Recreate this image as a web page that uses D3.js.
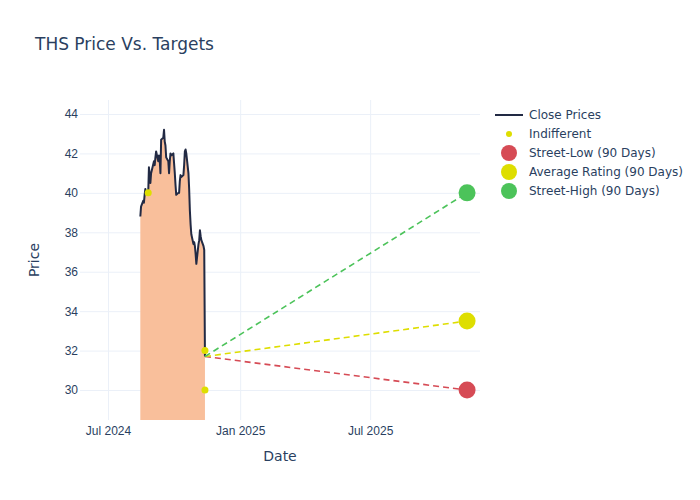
<!DOCTYPE html>
<html>
<head>
<meta charset="utf-8">
<script src="https://cdn.jsdelivr.net/npm/d3@7"></script>
<style>
  body { margin: 0; background: #fff; }
  svg { font-family: "DejaVu Sans", verdana, arial, sans-serif; }
</style>
</head>
<body>
<svg id="chart" width="700" height="500"></svg>
<script>
const priceDates = ["2024-08-15","2024-08-16","2024-08-19","2024-08-20","2024-08-21","2024-08-22","2024-08-23","2024-08-26","2024-08-27","2024-08-28","2024-08-29","2024-08-30","2024-09-03","2024-09-04","2024-09-05","2024-09-06","2024-09-09","2024-09-10","2024-09-11","2024-09-12","2024-09-13","2024-09-16","2024-09-17","2024-09-18","2024-09-19","2024-09-20","2024-09-23","2024-09-24","2024-09-25","2024-09-26","2024-09-27","2024-09-30","2024-10-01","2024-10-02","2024-10-03","2024-10-04","2024-10-07","2024-10-08","2024-10-09","2024-10-10","2024-10-11","2024-10-14","2024-10-15","2024-10-16","2024-10-17","2024-10-18","2024-10-21","2024-10-22","2024-10-23","2024-10-24","2024-10-25","2024-10-28","2024-10-29","2024-10-30","2024-10-31","2024-11-01","2024-11-04","2024-11-05","2024-11-06","2024-11-07","2024-11-08","2024-11-11","2024-11-12","2024-11-13"];
const closePrices = [38.8,39.3,39.6,39.5,39.9,40.2,40.0,40.0,41.3,40.9,40.5,41.0,41.6,41.4,41.8,42.1,41.6,41.9,41.7,41.0,42.7,42.8,43.2,42.6,42.4,41.8,41.6,41.0,41.6,42.0,41.9,42.0,41.5,41.0,40.4,39.9,40.0,40.0,40.6,40.9,40.8,40.9,41.4,42.1,42.2,42.0,41.0,40.2,39.1,38.4,37.9,37.4,37.5,37.3,36.9,36.4,37.4,37.6,38.1,37.8,37.6,37.3,37.1,31.7];

const ratingDates = ["2024-08-26","2024-11-13","2024-11-13"];
const ratingPrices = [40, 32, 30];

const targetDate = "2025-11-13";
const targetNames = ["Street-Low (90 Days)","Average Rating (90 Days)","Street-High (90 Days)"];
const targetValues = [30, 33.5, 40];
const targetColors = ["#d64b55","#dede00","#4cc35a"];

const yTicks = [30,32,34,36,38,40,42,44];
const xTickDates = ["2024-07-01","2025-01-01","2025-07-01"];
const xTickLabels = ["Jul 2024","Jan 2025","Jul 2025"];

(function () {
const parse = d3.timeParse("%Y-%m-%d");
const svg = d3.select("#chart");
const pL = 80, pR = 480, pT = 100, pB = 420;
const textColor = "#2a3f5f", gridColor = "#ebf0f8";

const x = d3.scaleTime().domain([parse("2024-05-23"), parse("2025-12-01")]).range([pL, pR]);
const y = d3.scaleLinear().domain([28.48, 44.71]).range([pB, pT]);

svg.append("defs").append("clipPath").attr("id","clip")
  .append("rect").attr("x", pL).attr("y", pT).attr("width", pR-pL).attr("height", pB-pT);

const gy = svg.append("g").attr("transform", `translate(${pL},0)`)
  .call(d3.axisLeft(y).tickValues(yTicks).tickSize(-(pR-pL)).tickFormat(d3.format("d")).tickPadding(2));
gy.select(".domain").remove();
gy.selectAll(".tick line").attr("stroke", gridColor);
gy.selectAll(".tick text").attr("fill", textColor).attr("font-size", 12);

const gx = svg.append("g").attr("transform", `translate(0,${pB})`)
  .call(d3.axisBottom(x).tickValues(xTickDates.map(parse)).tickSize(-(pB-pT))
    .tickFormat((d,i) => xTickLabels[i]).tickPadding(6));
gx.select(".domain").remove();
gx.selectAll(".tick line").attr("stroke", gridColor);
gx.selectAll(".tick text").attr("fill", textColor).attr("font-size", 12);

const priceData = priceDates.map((d,i) => ({date: parse(d), v: closePrices[i]}));
const plot = svg.append("g").attr("clip-path", "url(#clip)");

plot.append("path").datum(priceData)
  .attr("fill", "#f9bf9b")
  .attr("d", d3.area().x(d => x(d.date)).y0(y(0)).y1(d => y(d.v)));

plot.append("path").datum(priceData)
  .attr("fill", "none").attr("stroke", "#222a44").attr("stroke-width", 2)
  .attr("stroke-linejoin", "round")
  .attr("d", d3.line().x(d => x(d.date)).y(d => y(d.v)));

const last = priceData[priceData.length-1];
targetValues.forEach((v,i) => {
  plot.append("line")
    .attr("x1", x(last.date)).attr("y1", y(last.v))
    .attr("x2", x(parse(targetDate))).attr("y2", y(v))
    .attr("stroke", targetColors[i]).attr("stroke-width", 1.6)
    .attr("stroke-dasharray", "6,4");
});

ratingDates.forEach((d,i) => {
  svg.append("circle").attr("cx", x(parse(d))).attr("cy", y(ratingPrices[i]))
    .attr("r", 3.5).attr("fill", "#dede00");
});

targetValues.forEach((v,i) => {
  svg.append("circle").attr("cx", x(parse(targetDate))).attr("cy", y(v))
    .attr("r", 8.5).attr("fill", targetColors[i]);
});

svg.append("text").attr("x", 35).attr("y", 50).attr("fill", textColor)
  .attr("font-size", 17).text("THS Price Vs. Targets");

svg.append("text").attr("x", (pL+pR)/2).attr("y", 461).attr("text-anchor","middle")
  .attr("fill", textColor).attr("font-size", 14).text("Date");
svg.append("text").attr("transform", `translate(39,${(pT+pB)/2}) rotate(-90)`)
  .attr("text-anchor","middle").attr("fill", textColor).attr("font-size", 14).text("Price");

const legendNames = ["Close Prices","Indifferent"].concat(targetNames);
const lg = svg.append("g");
legendNames.forEach((name,i) => {
  const yy = 115 + i*19;
  if (i === 0) {
    lg.append("line").attr("x1", 495).attr("x2", 523).attr("y1", yy).attr("y2", yy)
      .attr("stroke", "#222a44").attr("stroke-width", 2);
  } else if (i === 1) {
    lg.append("circle").attr("cx", 509).attr("cy", yy).attr("r", 3).attr("fill", "#dede00");
  } else {
    lg.append("circle").attr("cx", 509).attr("cy", yy).attr("r", 8).attr("fill", targetColors[i-2]);
  }
  lg.append("text").attr("x", 529).attr("y", yy + 4).attr("fill", textColor)
    .attr("font-size", 12).text(name);
});
})();
</script>
</body>
</html>
